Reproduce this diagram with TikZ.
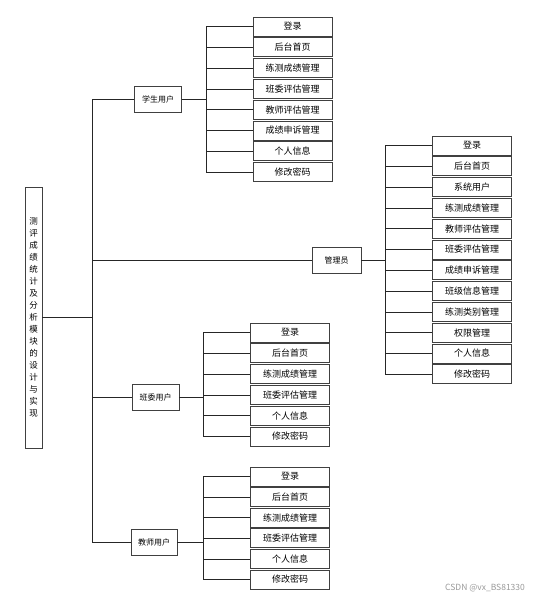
\documentclass[tikz,border=0pt]{standalone}
\usepackage{fontspec}
\newfontfamily\cjk{Noto Sans CJK SC}
\usetikzlibrary{positioning, calc}

\begin{document}
\begin{tikzpicture}[x=1pt, y=-1pt,
    box/.style={draw=black!75, line width=0.8pt, inner sep=0pt, font=\cjk\fontsize{8}{9}\selectfont},
    leaf/.style={box, minimum width=79pt, minimum height=19pt, font=\cjk\fontsize{9}{10}\selectfont},
    role/.style={box, minimum width=47pt, minimum height=26pt},
    link/.style={draw=black!85, line width=0.6pt}]
    \useasboundingbox (0,0) rectangle (536,599);
    \node[box, minimum width=17pt, minimum height=261pt, align=center,
        font=\cjk\fontsize{8.5}{12}\selectfont] (root) at (33.5,317.5)
        {测\\评\\成\\绩\\统\\计\\及\\分\\析\\模\\块\\的\\设\\计\\与\\实\\现};
    \node[role] (stu) at (158,99) {学生用户};
    \node[role, minimum width=49pt] (adm) at (336.5,260) {管理员};
    \node[role] (cls) at (155.5,397) {班委用户};
    \node[role, minimum width=46pt] (tch) at (154,542) {教师用户};
    % leaves
    \foreach \t [count=\i] in {登录,后台首页,练测成绩管理,班委评估管理,教师评估管理,成绩申诉管理,个人信息,修改密码}
        \node[leaf] (s\i) at (292.5,{5.7+20.8*\i}) {\t};
    \foreach \t [count=\i] in {登录,后台首页,系统用户,练测成绩管理,教师评估管理,班委评估管理,成绩申诉管理,班级信息管理,练测类别管理,权限管理,个人信息,修改密码}
        \node[leaf] (a\i) at (472,{124.7+20.8*\i}) {\t};
    \foreach \t [count=\i] in {登录,后台首页,练测成绩管理,班委评估管理,个人信息,修改密码}
        \node[leaf] (c\i) at (290,{311.7+20.8*\i}) {\t};
    \foreach \t [count=\i] in {登录,后台首页,练测成绩管理,班委评估管理,个人信息,修改密码}
        \node[leaf] (t\i) at (290,{455.9+20.6*\i}) {\t};
    % connectors
    \coordinate (trunk) at (92,317.5);
    \coordinate (sbus) at (206,99);
    \coordinate (abus) at (385,260);
    \coordinate (cbus) at (203,397);
    \coordinate (tbus) at (203,542);
    \draw[link] (root.east) -- (trunk);
    \foreach \r in {stu,adm,cls,tch}
        \draw[link] (\r.west) -| (trunk);
    \foreach \i in {1,...,8}
        \draw[link] (s\i.west) -| (sbus);
    \foreach \i in {1,...,12}
        \draw[link] (a\i.west) -| (abus);
    \foreach \i in {1,...,6} {
        \draw[link] (c\i.west) -| (cbus);
        \draw[link] (t\i.west) -| (tbus);
    }
    \draw[link] (stu.east) -- (sbus);
    \draw[link] (adm.east) -- (abus);
    \draw[link] (cls.east) -- (cbus);
    \draw[link] (tch.east) -- (tbus);
    \node[font=\cjk\fontsize{8.5}{9}\selectfont, text=black!40] (mark) at (485,588) {CSDN @vx\_BS81330};
\end{tikzpicture}
\end{document}
